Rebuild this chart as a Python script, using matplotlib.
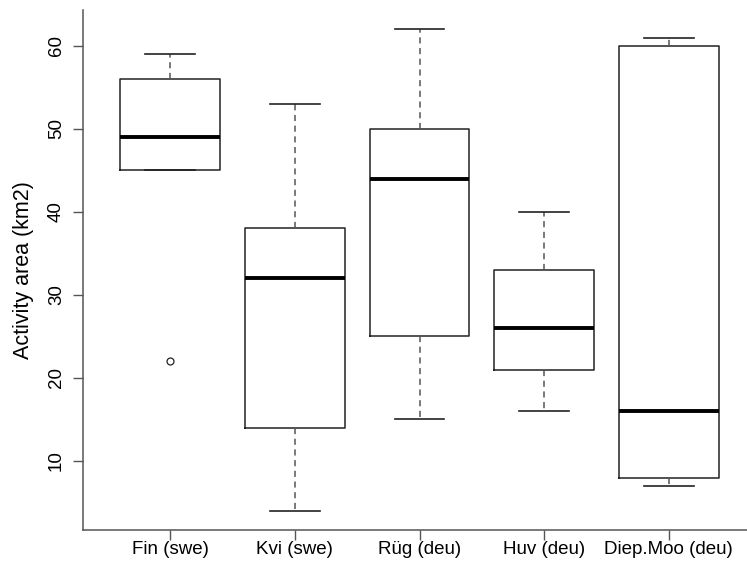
import matplotlib
matplotlib.use("Agg")
import matplotlib.pyplot as plt

# five-number summaries
groups = ["Fin (swe)", "Kvi (swe)", "Rüg (deu)", "Huv (deu)", "Diep.Moo (deu)"]
whis_lo = [45, 4, 15, 16, 7]
q1 = [45, 14, 25, 21, 8]
med = [49, 32, 44, 26, 16]
q3 = [56, 38, 50, 33, 60]
whis_hi = [59, 53, 62, 40, 61]
fliers = [[22], [], [], [], []]

yticks = [10, 20, 30, 40, 50, 60]

plt.rcParams['font.family'] = ['Liberation Sans', 'DejaVu Sans']

fig = plt.figure(figsize=(7.47, 5.69), dpi=100)
# axis runs past the right edge like the cropped original
ax = fig.add_axes([83 / 747, 39 / 569, 673 / 747, 520 / 569])

stats = []
for i in range(len(groups)):
    stats.append(dict(whislo=whis_lo[i], q1=q1[i], med=med[i], q3=q3[i],
                      whishi=whis_hi[i], fliers=fliers[i], label=groups[i]))

ax.bxp(stats, positions=range(1, len(groups) + 1), widths=0.8,
       boxprops=dict(color="#222222", linewidth=1.1),
       medianprops=dict(color="black", linewidth=2.8),
       whiskerprops=dict(color="#555555", linewidth=1.1, linestyle=(0, (4, 3))),
       capprops=dict(color="#222222", linewidth=1.2),
       flierprops=dict(marker="o", markersize=5, markerfacecolor="none",
                       markeredgecolor="#222222", markeredgewidth=0.9))

ax.set_xlim(0.3, 5.7)
ax.set_ylim(1.68, 64.32)
ax.set_yticks(yticks)
ax.set_yticklabels([str(t) for t in yticks], rotation=90, va="center")
ax.set_xticklabels(groups)

for side in ["top", "right"]:
    ax.spines[side].set_visible(False)
for side in ["left", "bottom"]:
    ax.spines[side].set_color("#555555")
    ax.spines[side].set_linewidth(1.1)

ax.tick_params(axis="both", direction="out", length=7, width=1, color="#555555",
               labelsize=13.5)
ax.tick_params(axis="x", pad=1)
ax.tick_params(axis="y", pad=6)
ax.set_ylabel("Activity area (km2)", fontsize=15.5, labelpad=10)

fig.savefig("out.png", dpi=100)
